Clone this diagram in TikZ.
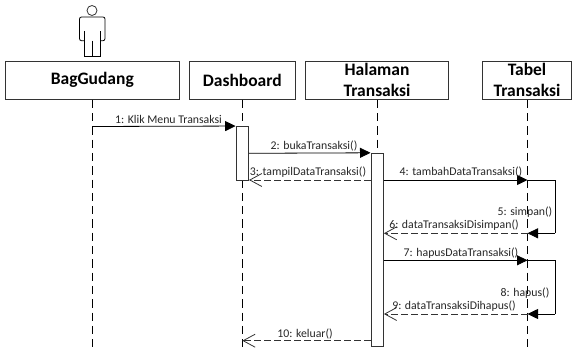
\documentclass[tikz,border=0pt]{standalone}
\usepackage{fontspec}
\setmainfont{Carlito}
\usetikzlibrary{arrows.meta}
\definecolor{linegray}{gray}{0.2}
\tikzset{
  box/.style={draw=linegray, rectangle, line width=0.8pt, align=center, font=\fontsize{17.5}{21}\selectfont\bfseries, inner sep=0pt},
  bar/.style={draw=linegray, rectangle, fill=white, line width=0.9pt, minimum width=12.5pt, inner sep=0pt},
  life/.style={draw=black, dash pattern=on 8.3pt off 5pt, line width=0.8pt},
  call/.style={draw=black, line width=0.8pt, -{Triangle[length=10.5pt,width=10pt]}},
  back/.style={draw=linegray, line width=0.8pt, dash pattern=on 6.5pt off 3.5pt, -{Straight Barb[length=12pt,width=13pt,line width=0.8pt]}},
  loopline/.style={draw=black, line width=0.8pt},
  txt/.style={font=\fontsize{11.8}{14}\selectfont, inner sep=0pt, anchor=base, text=black!85}
}
\begin{document}
\begin{tikzpicture}[x=1pt, y=-1pt]
  \useasboundingbox (0,0) rectangle (572,352);
  % actor
  \node[draw=linegray, circle, line width=0.8pt, minimum size=10pt, inner sep=0pt] (head) at (92,10.5) {};
  \draw[loopline, rounded corners=2pt] (84.7,40.7) -- (79.5,40.7) -- (79.5,17) -- (105,17) -- (105,40.7) -- (100,40.7);
  \draw[loopline] (84.7,31) -- (84.7,56) -- (100,56) -- (100,31) (92,40.7) -- (92,56);

  % lifeline heads
  \node[box, minimum width=174pt, minimum height=38.3pt] (bag) at (92.3,80.2) {BagGudang};
  \node[box, minimum width=106pt, minimum height=38.3pt] (dash) at (242.3,80.2) {Dashboard};
  \node[box, minimum width=143.4pt, minimum height=38.3pt] (halaman) at (377,80.2) {Halaman\\Transaksi};
  \node[box, minimum width=89pt, minimum height=38.3pt] (tabel) at (527,80.2) {Tabel\\Transaksi};

  \coordinate (bagend) at (92.3,348);
  \coordinate (dashend) at (242.3,348);
  \coordinate (halend) at (377,348);
  \coordinate (tabend) at (527.5,348);
  \draw[life] (bag) -- (bagend);
  \draw[life] (dash) -- (dashend);
  \draw[life] (halaman) -- (halend);
  \draw[life] (tabel.south -| tabend) -- (tabend);

  % activations
  \node[bar, minimum height=53.5pt] (actdash) at (242.3,153.25) {};
  \node[bar, minimum height=193.5pt] (acthal) at (377.2,250) {};

  % message ends
  \coordinate (m1a) at (92.3,126.5);
  \coordinate (m4b) at (527.5,180);
  \coordinate (m4c) at (555,180);
  \coordinate (m5c) at (555,233.3);
  \coordinate (m5b) at (527.5,233.3);
  \coordinate (m7b) at (527.5,260.3);
  \coordinate (m7c) at (555,260.3);
  \coordinate (m8c) at (555,314);
  \coordinate (m8b) at (527.5,314);
  \coordinate (m10b) at (242.3,340.7);

  \draw[call] (m1a) -- (actdash.north west);
  \draw[call] (actdash.east |- 0,153.3) -- (acthal.north west);
  \draw[back] (acthal.west |- 0,180) -- (actdash.east |- 0,180);
  \draw[call] (acthal.east |- m4b) -- (m4b);
  \draw[loopline] (m4b) -- (m4c) -- (m5c);
  \draw[call] (m5c) -- (m5b);
  \draw[back] (m5b) -- (acthal.east |- m5b);
  \draw[call] (acthal.east |- m7b) -- (m7b);
  \draw[loopline] (m7b) -- (m7c) -- (m8c);
  \draw[call] (m8c) -- (m8b);
  \draw[back] (m8b) -- (acthal.east |- m8b);
  \draw[back] (acthal.west |- m10b) -- (m10b);

  % labels
  \node[txt] (l1) at (168.5,124) {1: Klik Menu Transaksi};
  \node[txt] (l2) at (314,150) {2: bukaTransaksi()};
  \node[txt] (l3) at (308,176) {3: tampilDataTransaksi()};
  \node[txt] (l4) at (461,176) {4: tambahDataTransaksi()};
  \node[txt] (l5) at (525,216) {5: simpan()};
  \node[txt] (l6) at (454,229) {6: dataTransaksiDisimpan()};
  \node[txt] (l7) at (461,257) {7: hapusDataTransaksi()};
  \node[txt] (l8) at (525,296) {8: hapus()};
  \node[txt] (l9) at (454,309) {9: dataTransaksiDihapus()};
  \node[txt] (l10) at (305,337) {10: keluar()};
\end{tikzpicture}
\end{document}
